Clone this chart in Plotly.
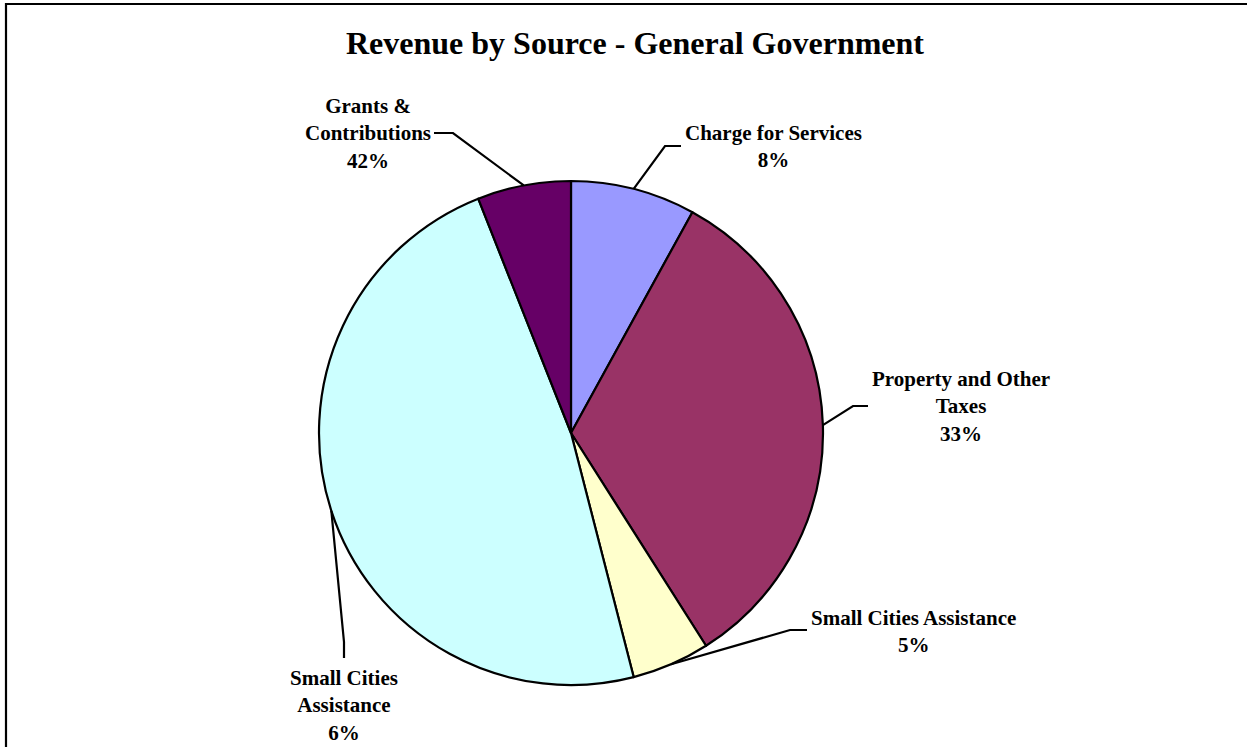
import math
import plotly.graph_objects as go

# Revenue sources, listed clockwise from 12 o'clock
categories = [
    "Charge for Services",
    "Property and Other Taxes",
    "Small Cities Assistance",
    "Small Cities Assistance (B)",
    "Grants & Contributions",
]
values = [8, 33, 5, 48, 6]
colors = ["#9999FF", "#993366", "#FFFFCC", "#CCFFFF", "#660066"]

# Callout text for each slice, as published with the chart
label_texts = [
    "Charge for Services<br>8%",
    "Property and Other<br>Taxes<br>33%",
    "Small Cities Assistance<br>5%",
    "Small Cities<br>Assistance<br>6%",
    "Grants &<br>Contributions<br>42%",
]

W, H = 1247, 747
CX, CY, R = 571, 433, 252          # pie centre and radius (px)
FONT = "Liberation Serif, Times New Roman, serif"
LINE_W = 2.2

# label block centre, elbow point and line end next to the text (px)
callouts = [
    dict(text=(773, 146), elbow=(665, 146), end=(681, 146)),
    dict(text=(961, 406), elbow=(853, 406), end=(868, 406)),
    dict(text=(913, 631), elbow=(790, 630), end=(807, 630)),
    dict(text=(344, 705), elbow=(344, 642), end=(344, 658)),
    dict(text=(368, 133), elbow=(453, 133), end=(434, 133)),
]


def px(x):
    return x / W


def py(y):
    return 1 - y / H


fig = go.Figure(
    go.Pie(
        labels=categories,
        values=values,
        sort=False,
        direction="clockwise",
        rotation=0,
        marker=dict(colors=colors, line=dict(color="black", width=LINE_W)),
        textinfo="none",
        hoverinfo="label+percent",
        showlegend=False,
        domain=dict(x=[px(CX - R), px(CX + R)], y=[py(CY + R), py(CY - R)]),
    )
)

annotations = []
shapes = []
total = sum(values)
cum = 0
for v, txt, c in zip(values, label_texts, callouts):
    mid = 2 * math.pi * (cum + v / 2) / total
    cum += v
    ex = CX + R * math.sin(mid)
    ey = CY - R * math.cos(mid)
    (bx, by), (qx, qy) = c["elbow"], c["end"]
    shapes.append(dict(
        type="path", xref="paper", yref="paper",
        path=f"M {px(ex)},{py(ey)} L {px(bx)},{py(by)} L {px(qx)},{py(qy)}",
        line=dict(color="black", width=LINE_W),
    ))
    tx, ty = c["text"]
    annotations.append(dict(
        x=px(tx), y=py(ty), xref="paper", yref="paper",
        text=f"<b>{txt}</b>", showarrow=False,
        xanchor="center", yanchor="middle", align="center",
        font=dict(family=FONT, size=21, color="black"),
    ))

# Chart title
annotations.append(dict(
    x=px(635), y=py(43), xref="paper", yref="paper",
    text="<b>Revenue by Source - General Government</b>", showarrow=False,
    xanchor="center", yanchor="middle",
    font=dict(family=FONT, size=32, color="black"),
))

# Chart-area frame
shapes.append(dict(
    type="rect", xref="paper", yref="paper",
    x0=px(6), x1=px(1264), y0=py(4), y1=py(765),
    line=dict(color="black", width=2.2), fillcolor="rgba(0,0,0,0)",
))

fig.update_layout(
    width=W, height=H,
    margin=dict(l=0, r=0, t=0, b=0),
    paper_bgcolor="white", plot_bgcolor="white",
    annotations=annotations, shapes=shapes,
)

fig.write_html("out.html", config={"displayModeBar": False})
